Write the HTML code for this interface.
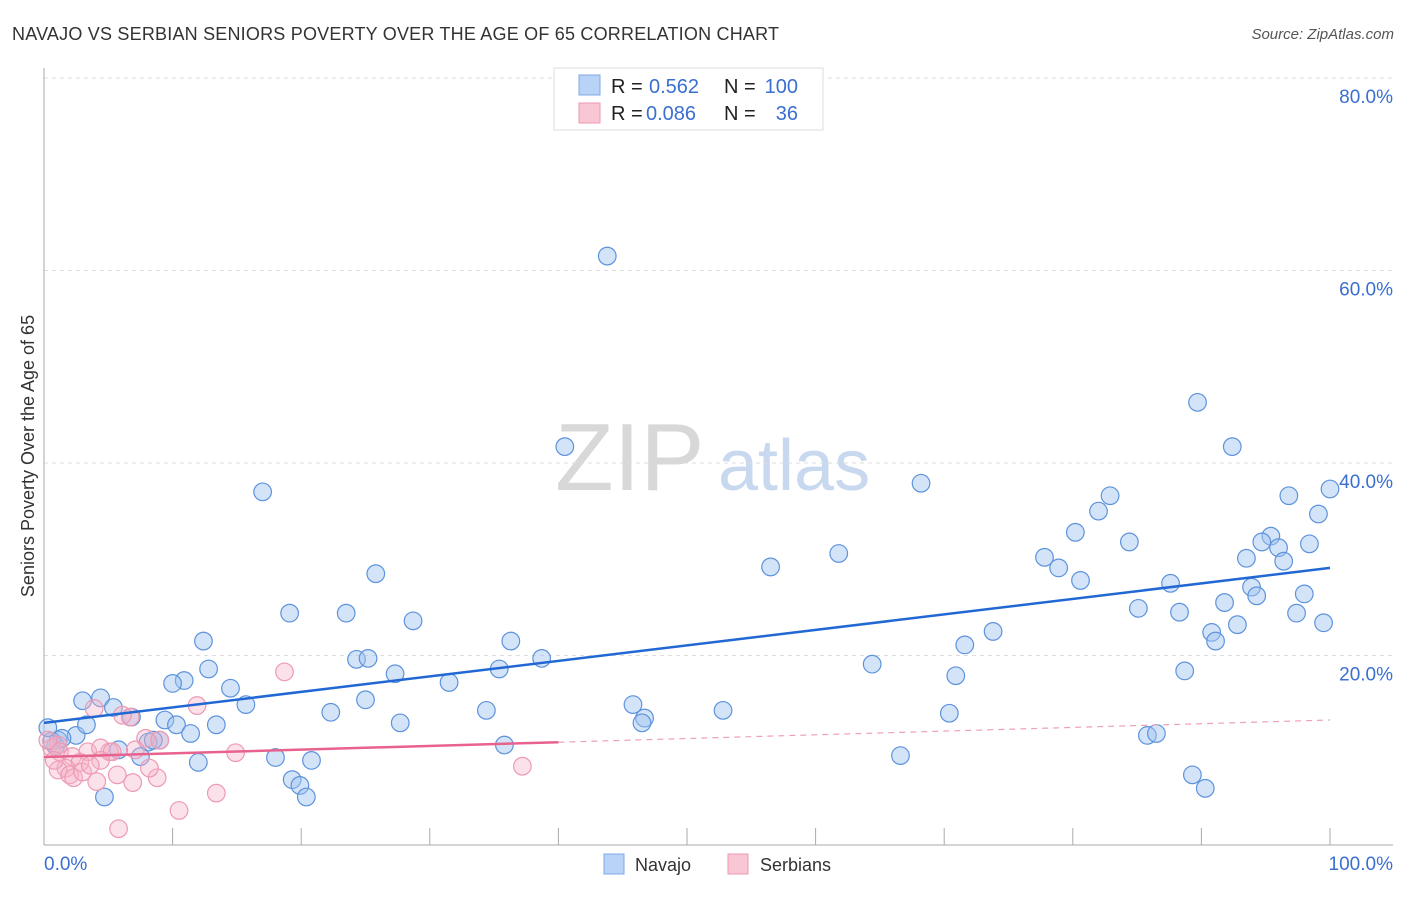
<!DOCTYPE html>
<html><head><meta charset="utf-8"><style>
body{margin:0;background:#fff;font-family:"Liberation Sans",sans-serif;}
svg text{font-family:"Liberation Sans",sans-serif;}
</style></head><body>
<svg id="chart" width="1406" height="892" xmlns="http://www.w3.org/2000/svg">
<text x="12" y="40" font-size="18" fill="#333" textLength="767">NAVAJO VS SERBIAN SENIORS POVERTY OVER THE AGE OF 65 CORRELATION CHART</text>
<text x="1394" y="39" font-size="15" fill="#555" text-anchor="end" font-style="italic">Source: ZipAtlas.com</text>
<g>
<text x="555" y="490" font-size="96" fill="#d8d8d8" font-family="Liberation Serif, serif">ZIP</text>
<text x="718" y="490" font-size="72" fill="#c8d8ee">atlas</text>
</g>
<g id="grid"></g>
<g id="axes"></g>
<g id="pts"></g>
<g id="trend"></g>
<text transform="translate(34,456) rotate(-90)" font-size="18" fill="#333" text-anchor="middle">Seniors Poverty Over the Age of 65</text>
<g>
<rect x="554" y="68" width="269" height="62" fill="#fff" stroke="#ddd"/>
<rect x="579" y="75" width="21" height="20" fill="#b8d3f5" stroke="#7eaae6"/>
<rect x="579" y="103" width="21" height="20" fill="#f9c6d4" stroke="#ee99b2"/>
<text x="611" y="93" font-size="20" fill="#222">R =</text>
<text x="649" y="93" font-size="20" fill="#3a6fd0">0.562</text>
<text x="724" y="93" font-size="20" fill="#222">N =</text>
<text x="798" y="93" font-size="20" fill="#3a6fd0" text-anchor="end">100</text>
<text x="611" y="120" font-size="20" fill="#222">R =</text>
<text x="646" y="120" font-size="20" fill="#3a6fd0">0.086</text>
<text x="724" y="120" font-size="20" fill="#222">N =</text>
<text x="798" y="120" font-size="20" fill="#3a6fd0" text-anchor="end">36</text>
</g>
<g>
<rect x="604" y="854" width="20" height="20" fill="#b8d3f5" stroke="#7eaae6"/>
<text x="635" y="871" font-size="18" fill="#333">Navajo</text>
<rect x="728" y="854" width="20" height="20" fill="#f9c6d4" stroke="#ee99b2"/>
<text x="760" y="871" font-size="18" fill="#333">Serbians</text>
</g>
</svg>
<script>
const yTicks=[20,40,60,80];
const yTickLabels=["20.0%","40.0%","60.0%","80.0%"];
const xTicks=[10,20,30,40,50,60,70,80,90,100];
const navajoX=[43.8,17.0,40.5,68.2,89.7,92.4,100,96.8,82.9,82.0,99.1,80.2,84.4,95.4,94.7,96.0,98.4,93.5,96.4,77.8,78.9,61.8,56.5,25.8,80.6,87.6,93.9,94.3,98.0,91.8,85.1,88.3,97.4,19.1,23.5,28.7,92.8,99.5,73.8,90.8,91.1,71.6,12.4,36.3,24.3,25.2,38.7,64.4,35.4,27.3,12.8,10.9,10.0,31.5,88.7,70.9,14.5,3.0,4.4,5.4,15.7,25.0,45.8,22.3,34.4,52.8,6.8,9.4,10.3,13.4,27.7,46.7,46.5,70.4,11.4,2.5,1.1,9.0,0.9,0.6,5.8,8.1,85.8,86.5,35.8,7.5,12.0,18.0,20.8,66.6,19.3,19.9,20.4,4.7,89.3,90.3,0.3,3.3,1.4,8.5];
const navajoY=[61.5,37.0,41.7,37.9,46.3,41.7,37.3,36.6,36.6,35.0,34.7,32.8,31.8,32.4,31.8,31.2,31.6,30.1,29.8,30.2,29.1,30.6,29.2,28.5,27.8,27.5,27.1,26.2,26.4,25.5,24.9,24.5,24.4,24.4,24.4,23.6,23.2,23.4,22.5,22.4,21.5,21.1,21.5,21.5,19.6,19.7,19.7,19.1,18.6,18.1,18.6,17.4,17.1,17.2,18.4,17.9,16.6,15.3,15.6,14.6,14.9,15.4,14.9,14.1,14.3,14.3,13.6,13.3,12.8,12.8,13.0,13.5,13.0,14.0,11.9,11.7,11.2,11.2,10.6,11.1,10.2,11.0,11.7,11.9,10.7,9.5,8.9,9.4,9.1,9.6,7.1,6.5,5.3,5.3,7.6,6.2,12.5,12.8,11.4,11.2];
const serbX=[18.7,11.9,3.9,6.7,6.1,5.1,3.4,4.4,1.1,0.6,1.2,2.2,2.8,1.7,1.1,2.0,2.3,4.1,3.0,5.7,6.9,8.8,7.9,7.1,9.0,14.9,5.3,13.4,10.5,5.8,37.2,4.4,0.3,0.8,3.6,8.2];
const serbY=[18.3,14.8,14.5,13.6,13.8,10.0,10.0,10.4,10.7,10.4,10.0,9.5,8.9,8.3,8.1,7.6,7.3,6.9,7.9,7.6,6.8,7.3,11.4,10.2,11.2,9.9,10.0,5.7,3.9,2.0,8.5,9.1,11.2,9.1,8.6,8.3];
const navajoTrend=[13.0,29.1];
const serbTrend=[9.45,13.3];
const NS="http://www.w3.org/2000/svg";
const X=v=>44+v*12.86, Y=v=>848-v*9.625;
function mk(tag,attrs,parent){const e=document.createElementNS(NS,tag);for(const k in attrs)e.setAttribute(k,attrs[k]);parent.appendChild(e);return e;}
const grid=document.getElementById('grid'),axes=document.getElementById('axes'),pts=document.getElementById('pts'),tr=document.getElementById('trend');
yTicks.forEach((t,i)=>{
 const l=mk('line',{x1:44,x2:1393,y1:Y(t),y2:Y(t),stroke:'#ddd','stroke-dasharray':'4,4'},grid);
 
 
 const tx=mk('text',{x:1393,y:Y(t)+25,'font-size':19,fill:'#3a6fd0','text-anchor':'end'},grid);
 tx.textContent=yTickLabels[i];
 
 
});
const al=mk('line',{x1:44,x2:44,y1:68,y2:845,stroke:'#aaa'},axes);


const bl=mk('line',{x1:44,x2:1393,y1:845,y2:845,stroke:'#aaa'},axes);


xTicks.forEach(t=>{
 const l=mk('line',{x1:X(t),x2:X(t),y1:828,y2:845,stroke:'#aaa'},axes);
 
 
});
const x0=mk('text',{x:44,y:870,'font-size':19,fill:'#3a6fd0'},axes);x0.textContent='0.0%';


const x1=mk('text',{x:1393,y:870,'font-size':19,fill:'#3a6fd0','text-anchor':'end'},axes);x1.textContent='100.0%';


navajoX.forEach((v,i)=>{
 const c=mk('circle',{cx:X(v),cy:Y(navajoY[i]),r:8.8,fill:'rgba(160,196,240,0.45)',stroke:'#5d93dc','stroke-width':1.2},pts);
 
 
});
serbX.forEach((v,i)=>{
 const c=mk('circle',{cx:X(v),cy:Y(serbY[i]),r:8.8,fill:'rgba(246,180,200,0.4)',stroke:'#ee9ab4','stroke-width':1.2},pts);
 
 
});
const nt=mk('line',{x1:X(0),y1:Y(navajoTrend[0]),x2:X(100),y2:Y(navajoTrend[1]),stroke:'#2168d4','stroke-width':2.5},tr);


const sAt=x=>serbTrend[0]+(serbTrend[1]-serbTrend[0])*x/100;
const st=mk('line',{x1:X(0),y1:Y(sAt(0)),x2:X(40),y2:Y(sAt(40)),stroke:'#e8628e','stroke-width':2.5},tr);


const sd=mk('line',{x1:X(40),y1:Y(sAt(40)),x2:X(100),y2:Y(sAt(100)),stroke:'#eea0b8','stroke-width':1.2,'stroke-dasharray':'6,5'},tr);


</script>
</body></html>
